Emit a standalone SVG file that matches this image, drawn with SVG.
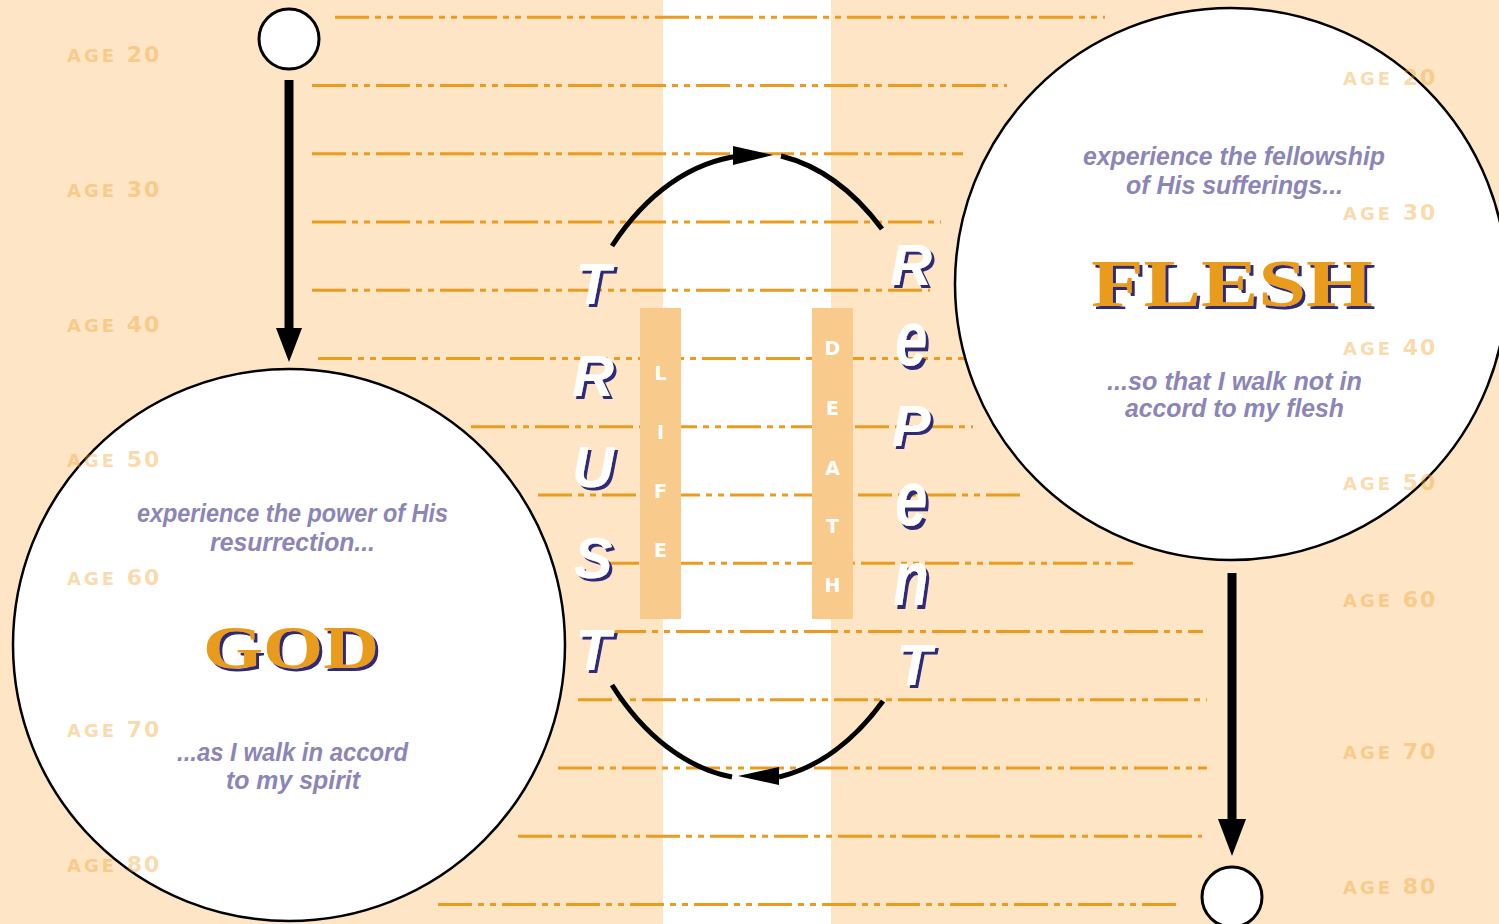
<svg xmlns="http://www.w3.org/2000/svg" width="1499" height="924" viewBox="0 0 1499 924">
<defs>
<filter id="shadow" x="-20%" y="-20%" width="150%" height="150%">
<feOffset in="SourceAlpha" dx="3" dy="3" result="off"/>
<feFlood flood-color="#2d2a78" result="col"/>
<feComposite in="col" in2="off" operator="in" result="sh"/>
<feMerge><feMergeNode in="sh"/><feMergeNode in="SourceGraphic"/></feMerge>
</filter>
</defs>
<style>
.dl{stroke:#eb9c1f;stroke-width:3;stroke-dasharray:34 6 6 6 6 6;fill:none}
.big{fill:#fff;stroke:#000;stroke-width:2.5}
.small{fill:#fff;stroke:#000;stroke-width:3}
.shaft{stroke:#000;stroke-width:9}
.arc{fill:none;stroke:#000;stroke-width:5}
.ph{font-family:"Liberation Sans",Arial,sans-serif;font-weight:bold;font-style:italic;font-size:25px;fill:#8c85b8}
.title{font-family:"Liberation Serif","Times New Roman",serif;font-weight:bold;fill:#e99b1b;filter:url(#shadow)}
.tl{font-family:"Liberation Sans",Arial,sans-serif;font-weight:bold;font-style:italic;font-size:58px;text-anchor:middle;fill:#fff;filter:url(#shadow)}
.bar{fill:#f8ca8c}
.bl{font-family:"DejaVu Sans",sans-serif;font-weight:bold;font-size:19px;fill:#fff;text-anchor:middle}
.age{font-family:"DejaVu Sans",sans-serif;font-weight:bold;fill:#f0a028;fill-opacity:0.4}
.a1{font-size:18px;letter-spacing:3px}
.a2{font-size:22px;letter-spacing:2px}
</style>
<g id="background">
<rect x="0" y="0" width="1499" height="924" fill="#fde5c5"/>
<rect x="663" y="0" width="168" height="924" fill="#fff"/>
</g>
<g id="age-lines">
<line class="dl" x1="335" y1="17.3" x2="1105" y2="17.3"/>
<line class="dl" x1="312" y1="85.5" x2="1007" y2="85.5"/>
<line class="dl" x1="312" y1="153.8" x2="963" y2="153.8"/>
<line class="dl" x1="312" y1="222" x2="941" y2="222"/>
<line class="dl" x1="312" y1="290.3" x2="930" y2="290.3"/>
<line class="dl" x1="318" y1="358.5" x2="965" y2="358.5"/>
<line class="dl" x1="471" y1="426.8" x2="973" y2="426.8"/>
<line class="dl" x1="538" y1="495" x2="1020" y2="495"/>
<line class="dl" x1="605" y1="563.3" x2="1133" y2="563.3"/>
<line class="dl" x1="612" y1="631.5" x2="1203" y2="631.5"/>
<line class="dl" x1="578" y1="699.8" x2="1207" y2="699.8"/>
<line class="dl" x1="558" y1="768" x2="1207" y2="768"/>
<line class="dl" x1="518" y1="836.3" x2="1202" y2="836.3"/>
<line class="dl" x1="438" y1="904.5" x2="1180" y2="904.5"/>
</g>
<g id="life">
<rect class="bar" x="640" y="308" width="41" height="311"/>
<text class="bl" x="660.5" y="380">L</text>
<text class="bl" x="660.5" y="439">I</text>
<text class="bl" x="660.5" y="498">F</text>
<text class="bl" x="660.5" y="557">E</text>
</g>
<g id="death">
<rect class="bar" x="812" y="308" width="41" height="311"/>
<text class="bl" x="832.5" y="355">D</text>
<text class="bl" x="832.5" y="415">E</text>
<text class="bl" x="832.5" y="475">A</text>
<text class="bl" x="832.5" y="533">T</text>
<text class="bl" x="832.5" y="592">H</text>
</g>
<g id="start">
<circle class="small" cx="289" cy="39" r="30"/>
</g>
<g id="god">
<circle class="big" cx="289" cy="645" r="276"/>
<text class="ph" x="137" y="522" textLength="311" lengthAdjust="spacingAndGlyphs">experience the power of His</text>
<text class="ph" x="210" y="551" textLength="165" lengthAdjust="spacingAndGlyphs">resurrection...</text>
<text class="title" x="203" y="668" font-size="62" textLength="176" lengthAdjust="spacingAndGlyphs">GOD</text>
<text class="ph" x="177" y="761" textLength="231" lengthAdjust="spacingAndGlyphs">...as I walk in accord</text>
<text class="ph" x="226" y="789" textLength="134" lengthAdjust="spacingAndGlyphs">to my spirit</text>
</g>
<g id="flesh">
<circle class="big" cx="1231" cy="284" r="276"/>
<text class="ph" x="1083" y="165" textLength="302" lengthAdjust="spacingAndGlyphs">experience the fellowship</text>
<text class="ph" x="1126" y="194" textLength="217" lengthAdjust="spacingAndGlyphs">of His sufferings...</text>
<text class="title" x="1091" y="306" font-size="68" textLength="282" lengthAdjust="spacingAndGlyphs">FLESH</text>
<text class="ph" x="1107" y="390" textLength="255" lengthAdjust="spacingAndGlyphs">...so that I walk not in</text>
<text class="ph" x="1125" y="417" textLength="219" lengthAdjust="spacingAndGlyphs">accord to my flesh</text>
</g>
<g id="end">
<circle class="small" cx="1232" cy="897" r="30"/>
</g>
<g id="connectors">
<line class="shaft" x1="289" y1="80" x2="289" y2="330"/>
<polygon points="276,328 302,328 289,362"/>
<line class="shaft" x1="1232" y1="573" x2="1232" y2="822"/>
<polygon points="1218,819 1246,819 1232,856"/>
<path class="arc" d="M612,246 A202,311 0 0,1 740,156"/>
<polygon points="733,146 773,155 733,165"/>
<path class="arc" d="M781,156 A202,311 0 0,1 882,229"/>
<path class="arc" d="M612,685 A202,311 0 0,0 732,777"/>
<polygon points="738,776 779,767 779,785"/>
<path class="arc" d="M779,777 A202,311 0 0,0 883,701"/>
</g>
<g id="trust">
<text class="tl" x="593" y="304">T</text>
<text class="tl" x="593" y="396">R</text>
<text class="tl" x="593" y="487">U</text>
<text class="tl" x="593" y="578">S</text>
<text class="tl" x="593" y="670">T</text>
</g>
<g id="repent">
<text class="tl" x="911" y="285">R</text>
<text class="tl" transform="translate(911,365) scale(1,1.33)" x="0" y="0">e</text>
<text class="tl" x="911" y="446">P</text>
<text class="tl" transform="translate(911,525) scale(1,1.33)" x="0" y="0">e</text>
<text class="tl" transform="translate(911,605) scale(1,1.33)" x="0" y="0">n</text>
<text class="tl" x="914" y="685">T</text>
</g>
<g id="age-labels">
<text class="age" x="67" y="62"><tspan class="a1">AGE</tspan><tspan class="a2"> 20</tspan></text>
<text class="age" x="67" y="197"><tspan class="a1">AGE</tspan><tspan class="a2"> 30</tspan></text>
<text class="age" x="67" y="332"><tspan class="a1">AGE</tspan><tspan class="a2"> 40</tspan></text>
<text class="age" x="67" y="467"><tspan class="a1">AGE</tspan><tspan class="a2"> 50</tspan></text>
<text class="age" x="67" y="585"><tspan class="a1">AGE</tspan><tspan class="a2"> 60</tspan></text>
<text class="age" x="67" y="737"><tspan class="a1">AGE</tspan><tspan class="a2"> 70</tspan></text>
<text class="age" x="67" y="872"><tspan class="a1">AGE</tspan><tspan class="a2"> 80</tspan></text>
<text class="age" x="1343" y="85"><tspan class="a1">AGE</tspan><tspan class="a2"> 20</tspan></text>
<text class="age" x="1343" y="220"><tspan class="a1">AGE</tspan><tspan class="a2"> 30</tspan></text>
<text class="age" x="1343" y="355"><tspan class="a1">AGE</tspan><tspan class="a2"> 40</tspan></text>
<text class="age" x="1343" y="490"><tspan class="a1">AGE</tspan><tspan class="a2"> 50</tspan></text>
<text class="age" x="1343" y="607"><tspan class="a1">AGE</tspan><tspan class="a2"> 60</tspan></text>
<text class="age" x="1343" y="759"><tspan class="a1">AGE</tspan><tspan class="a2"> 70</tspan></text>
<text class="age" x="1343" y="894"><tspan class="a1">AGE</tspan><tspan class="a2"> 80</tspan></text>
</g>
</svg>
